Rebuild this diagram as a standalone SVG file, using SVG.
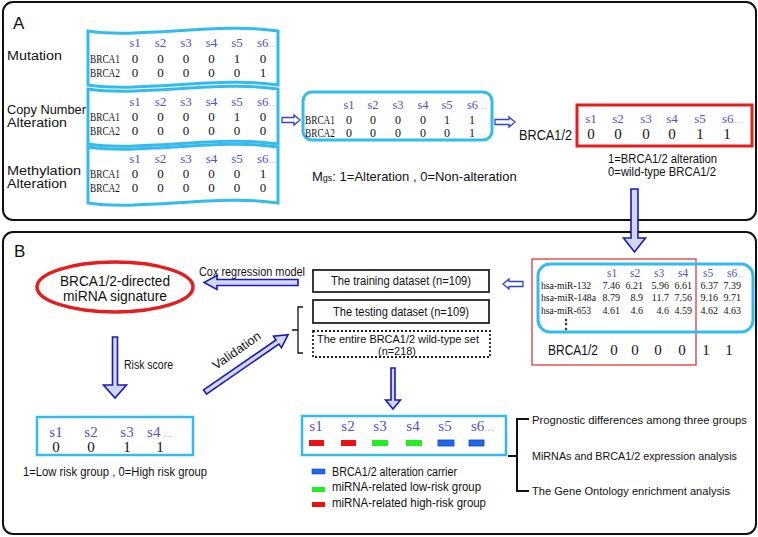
<svg xmlns="http://www.w3.org/2000/svg" width="758" height="537" viewBox="0 0 758 537">
<style>
.panel{fill:none;stroke:#111;stroke-width:2}
.blue{fill:none;stroke:#33bbee;stroke-width:3}
.sans{font-family:"Liberation Sans","Noto Sans",sans-serif;fill:#111}
.ser{font-family:"Liberation Serif",serif;fill:#111}
.hd{font-family:"Liberation Serif",serif;fill:#5050d0}
.mono{font-family:"Liberation Serif",serif;fill:#111;font-size:10px}
.c{text-anchor:middle}
.e{text-anchor:end}
.harrow{fill:#fff;stroke:#3344cc;stroke-width:1.3}
.barrow{fill:#d2d6f8;stroke:#1a1ab5;stroke-width:1.6}
.dots{fill:#9999dd}
</style>

<!-- Panels -->
<rect class="panel" x="3" y="2" width="753" height="218" rx="10"/>
<rect class="panel" x="3" y="232" width="753" height="302" rx="10"/>
<text class="sans" x="13" y="29" font-size="17">A</text>
<text class="sans" x="14" y="257" font-size="17">B</text>

<!-- Panel A left labels -->
<g id="labels-a">
<text class="sans" x="7" y="60" font-size="12" textLength="55" lengthAdjust="spacingAndGlyphs">Mutation</text>
<text class="sans" x="7" y="114" font-size="12" textLength="79" lengthAdjust="spacingAndGlyphs">Copy Number</text>
<text class="sans" x="7" y="127" font-size="12" textLength="60" lengthAdjust="spacingAndGlyphs">Alteration</text>
<text class="sans" x="7" y="175" font-size="12" textLength="74" lengthAdjust="spacingAndGlyphs">Methylation</text>
<text class="sans" x="7" y="188" font-size="12" textLength="60" lengthAdjust="spacingAndGlyphs">Alteration</text>
</g>

<!-- Table: Mutation -->
<g id="table-mutation">
<path class="blue" d="M88,31 C140,39 220,22 278,31 L278,85 C220,76 140,93 88,85 Z"/>
<g class="hd c" font-size="13">
<text x="135" y="47">s1</text><text x="160.5" y="47">s2</text><text x="186" y="47">s3</text><text x="211.5" y="47">s4</text><text x="237" y="47">s5</text><text x="257" y="47" text-anchor="start">s6<tspan class="dots" font-size="9">…</tspan></text>
</g>
<g class="ser c" font-size="13">
<text x="90" y="63" text-anchor="start" textLength="30" lengthAdjust="spacingAndGlyphs">BRCA1</text>
<text x="135" y="63">0</text><text x="160.5" y="63">0</text><text x="186" y="63">0</text><text x="211.5" y="63">0</text><text x="237" y="63">1</text><text x="263" y="63">0</text>
<text x="90" y="77" text-anchor="start" textLength="30" lengthAdjust="spacingAndGlyphs">BRCA2</text>
<text x="135" y="77">0</text><text x="160.5" y="77">0</text><text x="186" y="77">0</text><text x="211.5" y="77">0</text><text x="237" y="77">0</text><text x="263" y="77">1</text>
</g>
</g>

<!-- Table: Copy Number -->
<g id="table-cna">
<path class="blue" d="M88,89 C140,97 220,80 278,89 L278,144 C220,135 140,152 88,144 Z"/>
<g class="hd c" font-size="13">
<text x="135" y="106">s1</text><text x="160.5" y="106">s2</text><text x="186" y="106">s3</text><text x="211.5" y="106">s4</text><text x="237" y="106">s5</text><text x="257" y="106" text-anchor="start">s6<tspan class="dots" font-size="9">…</tspan></text>
</g>
<g class="ser c" font-size="13">
<text x="90" y="121" text-anchor="start" textLength="30" lengthAdjust="spacingAndGlyphs">BRCA1</text>
<text x="135" y="121">0</text><text x="160.5" y="121">0</text><text x="186" y="121">0</text><text x="211.5" y="121">0</text><text x="237" y="121">1</text><text x="263" y="121">0</text>
<text x="90" y="135" text-anchor="start" textLength="30" lengthAdjust="spacingAndGlyphs">BRCA2</text>
<text x="135" y="135">0</text><text x="160.5" y="135">0</text><text x="186" y="135">0</text><text x="211.5" y="135">0</text><text x="237" y="135">0</text><text x="263" y="135">0</text>
</g>
</g>

<!-- Table: Methylation -->
<g id="table-methylation">
<path class="blue" d="M88,147 C140,155 220,138 278,147 L278,203 C220,194 140,211 88,203 Z"/>
<g class="hd c" font-size="13">
<text x="135" y="163">s1</text><text x="160.5" y="163">s2</text><text x="186" y="163">s3</text><text x="211.5" y="163">s4</text><text x="237" y="163">s5</text><text x="257" y="163" text-anchor="start">s6<tspan class="dots" font-size="9">…</tspan></text>
</g>
<g class="ser c" font-size="13">
<text x="90" y="178" text-anchor="start" textLength="30" lengthAdjust="spacingAndGlyphs">BRCA1</text>
<text x="135" y="178">0</text><text x="160.5" y="178">0</text><text x="186" y="178">0</text><text x="211.5" y="178">0</text><text x="237" y="178">0</text><text x="263" y="178">1</text>
<text x="90" y="192" text-anchor="start" textLength="30" lengthAdjust="spacingAndGlyphs">BRCA2</text>
<text x="135" y="192">0</text><text x="160.5" y="192">0</text><text x="186" y="192">0</text><text x="211.5" y="192">0</text><text x="237" y="192">0</text><text x="263" y="192">0</text>
</g>
</g>

<!-- Merged table -->
<g id="table-merged">
<rect class="blue" x="303" y="92" width="189" height="48" rx="9"/>
<g class="hd c" font-size="12.5">
<text x="349" y="109">s1</text><text x="373" y="109">s2</text><text x="398" y="109">s3</text><text x="423" y="109">s4</text><text x="447" y="109">s5</text><text x="467" y="109" text-anchor="start">s6<tspan class="dots" font-size="9">…</tspan></text>
</g>
<g class="ser c" font-size="12">
<text x="305" y="124" text-anchor="start" textLength="30" lengthAdjust="spacingAndGlyphs">BRCA1</text>
<text x="349" y="124">0</text><text x="373" y="124">0</text><text x="398" y="124">0</text><text x="423" y="124">0</text><text x="447" y="124">1</text><text x="472" y="124">1</text>
<text x="305" y="137" text-anchor="start" textLength="30" lengthAdjust="spacingAndGlyphs">BRCA2</text>
<text x="349" y="137">0</text><text x="373" y="137">0</text><text x="398" y="137">0</text><text x="423" y="137">0</text><text x="447" y="137">0</text><text x="472" y="137">1</text>
</g>
<text class="sans" x="312" y="181" font-size="13">M<tspan font-size="9">gs</tspan>: 1=Alteration  ,  0=Non-alteration</text>
</g>

<!-- BRCA1/2 status -->
<g id="status-a">
<text class="sans" x="519" y="140" font-size="15" textLength="53" lengthAdjust="spacingAndGlyphs">BRCA1/2</text>
<rect x="577" y="105" width="175" height="41" fill="none" stroke="#e41e1e" stroke-width="3"/>
<g class="hd c" font-size="13">
<text x="591" y="123">s1</text><text x="618" y="123">s2</text><text x="646" y="123">s3</text><text x="672" y="123">s4</text><text x="700" y="123">s5</text><text x="722" y="123" text-anchor="start">s6<tspan class="dots" font-size="9">…</tspan></text>
</g>
<g class="ser c" font-size="15">
<text x="591" y="139">0</text><text x="618" y="139">0</text><text x="646" y="139">0</text><text x="672" y="139">0</text><text x="700" y="139">1</text><text x="727" y="139">1</text>
</g>
<text class="sans" x="608" y="163" font-size="12" textLength="109" lengthAdjust="spacingAndGlyphs">1=BRCA1/2 alteration</text>
<text class="sans" x="608" y="176" font-size="12" textLength="108" lengthAdjust="spacingAndGlyphs">0=wild-type BRCA1/2</text>
</g>

<!-- Panel B: signature -->
<g id="signature">
<ellipse cx="115" cy="287" rx="78" ry="25" fill="none" stroke="#e41e1e" stroke-width="3.5"/>
<text class="sans c" x="115" y="286" font-size="14.5" textLength="110" lengthAdjust="spacingAndGlyphs">BRCA1/2-directed</text>
<text class="sans c" x="115" y="301" font-size="14.5" textLength="104" lengthAdjust="spacingAndGlyphs">miRNA signature</text>
</g>

<!-- Datasets -->
<g id="training">
<rect x="313" y="270" width="176" height="22" fill="none" stroke="#222" stroke-width="1.8"/>
<text class="sans" x="331" y="285" font-size="12.5" textLength="140" lengthAdjust="spacingAndGlyphs">The training dataset (n=109)</text>
</g>
<g id="testing">
<rect x="313" y="300" width="176" height="23" fill="none" stroke="#222" stroke-width="1.8"/>
<text class="sans" x="333" y="316" font-size="12.5" textLength="136" lengthAdjust="spacingAndGlyphs">The testing dataset (n=109)</text>
</g>
<g id="entire">
<rect x="313" y="331" width="177" height="26" fill="none" stroke="#222" stroke-width="1.8" stroke-dasharray="2 2"/>
<text class="sans" x="317" y="343" font-size="11.5" textLength="162" lengthAdjust="spacingAndGlyphs">The entire BRCA1/2 wild-type set</text>
<text class="sans" x="378" y="355" font-size="11.5" textLength="38" lengthAdjust="spacingAndGlyphs">(n=218)</text>
</g>

<!-- miRNA expression -->
<g id="mirna-table">
<rect x="532" y="259" width="164" height="106" fill="none" stroke="#e05555" stroke-width="1.5"/>
<rect class="blue" x="538" y="264" width="215" height="68" rx="12"/>
<g class="hd" font-size="11.5">
<text x="607" y="277">s1</text><text x="630" y="277">s2</text><text x="654" y="277">s3</text><text x="678" y="277">s4</text><text x="703" y="277">s5</text><text x="727" y="277">s6<tspan class="dots" font-size="8">…</tspan></text>
</g>
<g class="mono">
<text x="541" y="289" textLength="50" lengthAdjust="spacingAndGlyphs">hsa-miR-132</text>
<text x="541" y="301" textLength="55" lengthAdjust="spacingAndGlyphs">hsa-miR-148a</text>
<text x="541" y="314" textLength="50" lengthAdjust="spacingAndGlyphs">hsa-miR-653</text>
</g>
<g class="mono e">
<text x="620" y="289">7.46</text><text x="643" y="289">6.21</text><text x="669" y="289">5.96</text><text x="692" y="289">6.61</text><text x="718" y="289">6.37</text><text x="741" y="289">7.39</text>
<text x="620" y="301">8.79</text><text x="643" y="301">8.9</text><text x="669" y="301">11.7</text><text x="692" y="301">7.56</text><text x="718" y="301">9.16</text><text x="741" y="301">9.71</text>
<text x="620" y="314">4.61</text><text x="643" y="314">4.6</text><text x="669" y="314">4.6</text><text x="692" y="314">4.59</text><text x="718" y="314">4.62</text><text x="741" y="314">4.63</text>
</g>
<text class="ser c" x="566" y="328" font-size="12" font-weight="bold">⋮</text>
<text class="sans" x="548" y="355" font-size="15" textLength="50" lengthAdjust="spacingAndGlyphs">BRCA1/2</text>
<g class="ser c" font-size="15">
<text x="614" y="355">0</text><text x="635" y="355">0</text><text x="658" y="355">0</text><text x="682" y="355">0</text><text x="706" y="355">1</text><text x="729" y="355">1</text>
</g>
</g>

<!-- Risk table -->
<g id="risk-table">
<rect x="37" y="417" width="156" height="38" fill="none" stroke="#33bbee" stroke-width="2.5"/>
<g class="hd c" font-size="15">
<text x="56" y="437">s1</text><text x="91" y="437">s2</text><text x="127" y="437">s3</text><text x="160" y="437">s4<tspan class="dots" font-size="10"> …</tspan></text>
</g>
<g class="ser c" font-size="15">
<text x="56" y="452">0</text><text x="91" y="452">0</text><text x="127" y="452">1</text><text x="160" y="452">1</text>
</g>
<text class="sans" x="23" y="476" font-size="12.5" textLength="184" lengthAdjust="spacingAndGlyphs">1=Low risk group , 0=High risk group</text>
</g>

<!-- Groups table -->
<g id="groups-table">
<rect x="302" y="416" width="204" height="39" fill="none" stroke="#33bbee" stroke-width="2.5"/>
<g class="hd c" font-size="15">
<text x="316" y="431">s1</text><text x="348" y="431">s2</text><text x="380" y="431">s3</text><text x="413" y="431">s4</text><text x="445" y="431">s5</text><text x="471" y="431" text-anchor="start">s6<tspan class="dots" font-size="10">…</tspan></text>
</g>
<rect x="309" y="440" width="15" height="6" fill="#ee1111"/>
<rect x="341" y="440" width="15" height="6" fill="#ee1111"/>
<rect x="372" y="440" width="16" height="6" fill="#22ee22"/>
<rect x="406" y="440" width="16" height="6" fill="#22ee22"/>
<rect x="438" y="440" width="16" height="6" fill="#2266ee" stroke="#1144bb" stroke-width="0.8"/>
<rect x="469" y="440" width="15" height="6" fill="#2266ee" stroke="#1144bb" stroke-width="0.8"/>
</g>

<!-- Legend -->
<g id="legend">
<rect x="312" y="469" width="13" height="5" fill="#2266ee" stroke="#1144bb" stroke-width="0.6"/>
<rect x="312" y="487" width="13" height="5" fill="#22ee22"/>
<rect x="312" y="502" width="13" height="5" fill="#ee1111"/>
<text class="sans" x="332" y="476" font-size="12.5" textLength="125" lengthAdjust="spacingAndGlyphs">BRCA1/2 alteration carrier</text>
<text class="sans" x="332" y="491" font-size="12.5" textLength="149" lengthAdjust="spacingAndGlyphs">miRNA-related low-risk group</text>
<text class="sans" x="332" y="507" font-size="12.5" textLength="154" lengthAdjust="spacingAndGlyphs">miRNA-related high-risk group</text>
</g>

<!-- Analyses -->
<g id="analyses">
<text class="sans" x="532" y="424" font-size="11.5" textLength="215" lengthAdjust="spacingAndGlyphs">Prognostic differences among three groups</text>
<text class="sans" x="532" y="460" font-size="11.5" textLength="205" lengthAdjust="spacingAndGlyphs">MiRNAs and BRCA1/2 expression analysis</text>
<text class="sans" x="532" y="495" font-size="11.5" textLength="198" lengthAdjust="spacingAndGlyphs">The Gene Ontology enrichment analysis</text>
</g>

<!-- Connectors -->
<g id="connectors">
<polygon class="harrow" points="282,117.5 294,117.5 294,115 300,120 294,125 294,122.5 282,122.5"/>
<polygon class="harrow" points="495,119.5 509,119.5 509,117 515,122 509,127 509,124.5 495,124.5"/>
<polygon class="harrow" points="523,281.5 509,281.5 509,279 503,284 509,289 509,286.5 523,286.5"/>
<polygon class="barrow" points="631,189 638,189 638,238 645.5,238 634.5,252 623.5,238 631,238"/>
<polygon class="barrow" points="298,279.5 217,279.5 217,275.5 204,282.5 217,289.5 217,285.5 298,285.5"/>
<polygon class="barrow" points="112.5,337 117.5,337 117.5,385 126.5,385 115,398 103.5,385 112.5,385"/>
<polygon class="barrow" points="391,368 395,368 395,400 400.5,400 393,409 385.5,400 391,400"/>
<polygon class="barrow" transform="translate(205,392) rotate(-34.6)" points="0,-2.5 88,-2.5 88,-7 101,0 88,7 88,2.5 0,2.5"/>
<text class="sans" x="124" y="369" font-size="12.5" textLength="49" lengthAdjust="spacingAndGlyphs">Risk score</text>
<text class="sans" x="199" y="276" font-size="12.5" textLength="106" lengthAdjust="spacingAndGlyphs">Cox regression model</text>
<text class="sans c" transform="translate(239,354) rotate(-35)" x="0" y="0" font-size="12.5" textLength="56" lengthAdjust="spacingAndGlyphs">Validation</text>
<path d="M303,307 L298,307 L298,353 L303,353 M292,330 L298,330" fill="none" stroke="#111" stroke-width="1.3"/>
<path d="M529,419 L517,419 L517,491 L529,491 M508,456 L517,456" fill="none" stroke="#111" stroke-width="2"/>
</g>
</svg>
